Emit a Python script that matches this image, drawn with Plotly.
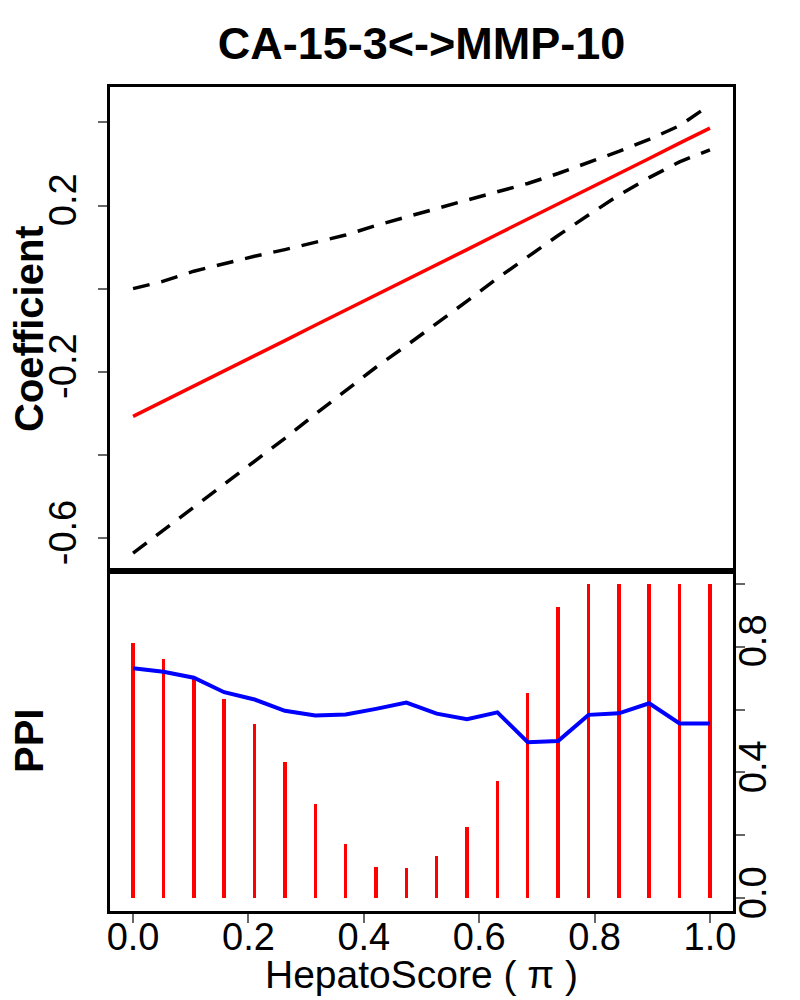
import plotly.graph_objects as go
from plotly.subplots import make_subplots

# HepatoScore grid (20 points, 0..1)
pi_grid = [0.0, 0.0526, 0.1053, 0.1579, 0.2105, 0.2632, 0.3158, 0.3684, 0.4211, 0.4737,
           0.5263, 0.5789, 0.6316, 0.6842, 0.7368, 0.7895, 0.8421, 0.8947, 0.9474, 1.0]

# coefficient estimate and band (upper panel)
coef = [-0.307, -0.271, -0.234, -0.198, -0.161, -0.125, -0.088, -0.052, -0.015, 0.021,
        0.058, 0.094, 0.131, 0.167, 0.204, 0.240, 0.277, 0.313, 0.350, 0.386]
coef_hi = [0.000, 0.018, 0.042, 0.061, 0.078, 0.094, 0.112, 0.129, 0.152, 0.173,
           0.194, 0.213, 0.233, 0.253, 0.277, 0.303, 0.330, 0.359, 0.392, 0.442]
coef_lo = [-0.636, -0.581, -0.525, -0.470, -0.415, -0.360, -0.302, -0.245, -0.189, -0.137,
           -0.084, -0.030, 0.025, 0.077, 0.128, 0.177, 0.225, 0.267, 0.305, 0.334]

# PPI (lower panel)
ppi_bars = [0.810, 0.762, 0.704, 0.632, 0.555, 0.432, 0.299, 0.172, 0.101, 0.098,
            0.136, 0.226, 0.373, 0.653, 0.927, 1.0, 1.0, 1.0, 1.0, 1.0]
ppi_line = [0.731, 0.720, 0.701, 0.655, 0.632, 0.596, 0.581, 0.584, 0.602, 0.622,
            0.587, 0.569, 0.591, 0.496, 0.500, 0.583, 0.588, 0.620, 0.556, 0.556]

coef_ticks = [-0.6, -0.4, -0.2, 0.0, 0.2, 0.4]
coef_ticktext = ["-0.6", "", "-0.2", "", "0.2", ""]
ppi_ticks = [0.0, 0.2, 0.4, 0.6, 0.8, 1.0]
ppi_ticktext = ["0.0", "", "0.4", "", "0.8", ""]
x_ticks = [0.0, 0.2, 0.4, 0.6, 0.8, 1.0]
x_ticktext = ["0.0", "0.2", "0.4", "0.6", "0.8", "1.0"]

FONT = "Liberation Sans"
split = 0.4126

fig = make_subplots(rows=2, cols=1, vertical_spacing=0)

fig.add_trace(go.Scatter(x=pi_grid, y=coef_hi, mode="lines",
                         line=dict(color="black", width=3.5, dash="17px,12px")), row=1, col=1)
fig.add_trace(go.Scatter(x=pi_grid, y=coef_lo, mode="lines",
                         line=dict(color="black", width=3.5, dash="17px,12px")), row=1, col=1)
fig.add_trace(go.Scatter(x=pi_grid, y=coef, mode="lines",
                         line=dict(color="red", width=3.5)), row=1, col=1)

fig.add_trace(go.Bar(x=pi_grid, y=ppi_bars, width=0.006,
                     marker=dict(color="red", line=dict(width=0))), row=2, col=1)
fig.add_trace(go.Scatter(x=pi_grid, y=ppi_line, mode="lines",
                         line=dict(color="blue", width=4)), row=2, col=1)

frame = dict(showline=True, mirror=True, linecolor="black", linewidth=3,
             showgrid=False, zeroline=False, automargin=False)
tick_style = dict(ticks="outside", ticklen=9, tickcolor="#666", tickwidth=1.5,
                  tickfont=dict(family=FONT, size=38, color="black"))

fig.update_xaxes(range=[-0.04, 1.04], showticklabels=False, ticks="", **frame, row=1, col=1)
fig.update_xaxes(range=[-0.04, 1.04], tickvals=x_ticks, ticktext=x_ticktext,
                 ticklabelstandoff=-19, **frame, **tick_style, row=2, col=1)
fig.update_yaxes(range=[-0.679, 0.485], domain=[split, 1], tickvals=coef_ticks,
                 ticktext=coef_ticktext, tickangle=-90, ticklabelstandoff=7,
                 **frame, **tick_style, row=1, col=1)
fig.update_yaxes(range=[-0.04, 1.04], domain=[0, split], side="right", tickvals=ppi_ticks,
                 ticktext=ppi_ticktext, tickangle=-90, ticklabelstandoff=-25,
                 **frame, **tick_style, row=2, col=1)

fig.update_layout(
    width=800, height=1000,
    margin=dict(l=102, r=75, t=79, b=97),
    plot_bgcolor="white", paper_bgcolor="white",
    showlegend=False, bargap=0,
    title=dict(text="<b>CA-15-3&lt;-&gt;MMP-10</b>", x=0.5, xref="paper", xanchor="center",
               y=0.965, yref="container", yanchor="middle",
               font=dict(family=FONT, size=45, color="black")),
    annotations=[
        dict(text="<b>Coefficient</b>", x=0, y=(split + 1) / 2, xref="paper", yref="paper",
             xshift=-81, textangle=-90, showarrow=False, xanchor="center", yanchor="middle",
             font=dict(family=FONT, size=40, color="black")),
        dict(text="<b>PPI</b>", x=0, y=split / 2, xref="paper", yref="paper",
             xshift=-81, textangle=-90, showarrow=False, xanchor="center", yanchor="middle",
             font=dict(family=FONT, size=40, color="black")),
        dict(text="HepatoScore ( \u03c0 )", x=0.5, y=0, xref="paper", yref="paper",
             yshift=-63, showarrow=False, xanchor="center", yanchor="middle",
             font=dict(family=FONT, size=39, color="black")),
    ],
)

fig.write_html("out.html")
